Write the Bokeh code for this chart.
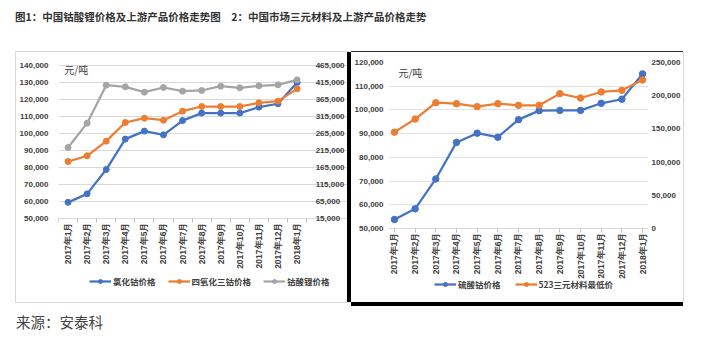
import math
from bokeh.plotting import figure
from bokeh.models import (Range1d, LinearAxis, FixedTicker, NumeralTickFormatter,
                          Legend, LegendItem, Label, Div, Spacer)
from bokeh.layouts import column, row
from bokeh.embed import file_html
from bokeh.resources import INLINE

# ---------------- data ----------------
months = ["2017年1月", "2017年2月", "2017年3月", "2017年4月", "2017年5月", "2017年6月",
          "2017年7月", "2017年8月", "2017年9月", "2017年10月", "2017年11月", "2017年12月",
          "2018年1月"]

# chart 1
cocl2 = [59500, 64500, 78800, 96700, 101400, 99200, 107600, 112000, 112000, 112000, 115500, 117500, 130000]
co3o4 = [182600, 199300, 242500, 297400, 310100, 304200, 330700, 344400, 344400, 344400, 355200, 360100, 396400]
licoo2 = [223800, 295400, 407200, 402300, 386600, 400300, 389500, 391500, 404200, 399300, 405200, 408100, 422800]
c1_left_ticks = [50000, 60000, 70000, 80000, 90000, 100000, 110000, 120000, 130000, 140000]
c1_right_ticks = [15000, 65000, 115000, 165000, 215000, 265000, 315000, 365000, 415000, 465000]

# chart 2
coso4 = [53800, 58300, 70900, 86300, 90200, 88500, 95900, 99700, 99800, 99800, 102800, 104500, 115200]
ncm523 = [145100, 164800, 189500, 188000, 183500, 188000, 185500, 185500, 203100, 196500, 205600, 208100, 223700]
c2_left_ticks = [50000, 60000, 70000, 80000, 90000, 100000, 110000, 120000]
c2_right_ticks = [0, 50000, 100000, 150000, 200000, 250000]

title_text = "图1：中国钴酸锂价格及上游产品价格走势图\u30002：中国市场三元材料及上游产品价格走势"
source_text = "来源：安泰科"
unit_text = "元/吨"
legend1 = ["氯化钴价格", "四氧化三钴价格", "钴酸锂价格"]
legend2 = ["硫酸钴价格", "523三元材料最低价"]

BLUE = "#4472C4"
ORANGE = "#ED7D31"
GRAY = "#A5A5A5"
GRID = "#D9D9D9"
TXT = "#404040"
NUMFONT = "Liberation Sans"
CJK = "Noto Sans CJK SC"

idx = list(range(len(months)))
overrides = {i: m for i, m in enumerate(months)}


def style_num_axis(ax, ticks, standoff):
    ax.ticker = FixedTicker(ticks=ticks)
    ax.formatter = NumeralTickFormatter(format="0,0")
    ax.axis_line_color = None
    ax.major_tick_line_color = None
    ax.minor_tick_line_color = None
    ax.major_tick_out = 0
    ax.major_tick_in = 0
    ax.minor_tick_out = 0
    ax.minor_tick_in = 0
    ax.major_label_text_font = NUMFONT
    ax.major_label_text_font_size = "8px"
    ax.major_label_text_font_style = "bold"
    ax.major_label_text_color = TXT
    ax.major_label_standoff = standoff


def style_x_axis(ax, ticks, minor, tick_out, standoff, at):
    ax.fixed_location = at
    ax.ticker = FixedTicker(ticks=ticks, minor_ticks=minor)
    ax.major_label_overrides = overrides
    ax.major_label_orientation = math.pi / 2
    ax.axis_line_color = GRID
    ax.major_tick_line_color = "#BFBFBF" if tick_out else None
    ax.major_tick_out = tick_out
    ax.major_tick_in = 0
    ax.minor_tick_line_color = "#BFBFBF" if minor else None
    ax.minor_tick_out = 4
    ax.minor_tick_in = 0
    ax.major_label_text_font = NUMFONT
    ax.major_label_text_font_size = "8.5px"
    ax.major_label_text_font_style = "bold"
    ax.major_label_text_color = TXT
    ax.major_label_standoff = standoff


def make_legend(items, loc, spacing):
    return Legend(items=items, orientation="horizontal", location=loc,
                  glyph_width=22, glyph_height=10, label_standoff=2, spacing=spacing,
                  padding=0, margin=0, border_line_color=None, background_fill_alpha=0,
                  label_text_font=CJK, label_text_font_size="8.5px",
                  label_text_font_style="bold", label_text_color=TXT,
                  label_height=10)


# ---------------- chart 1 ----------------
# the frame covers the whole box (so legend and labels are not clipped);
# range ends are chosen so the value area keeps its place
p1 = figure(width=332, height=250, x_range=Range1d(-0.5, 14.693), y_range=Range1d(1765, 141765),
            output_backend="svg", toolbar_location=None,
            min_border_left=41, min_border_right=0, min_border_top=10, min_border_bottom=2,
            styles={"box-shadow": "0 0 0 1px #D9D9D9"})
p1.outline_line_color = None
p1.extra_y_ranges = {"r": Range1d(-226176, 473824)}
r_axis1 = LinearAxis(y_range_name="r", fixed_location=12.5)
p1.add_layout(r_axis1, "right")
style_num_axis(p1.yaxis[0], c1_left_ticks, 10)
style_num_axis(r_axis1, c1_right_ticks, 9)
style_x_axis(p1.xaxis[0], idx, [i - 0.5 for i in idx] + [12.5], 0, 0, c1_left_ticks[0])
p1.xgrid.grid_line_color = None
p1.ygrid.grid_line_color = GRID
p1.ygrid.bounds = (-0.5, 12.5)

a1 = p1.line(idx, cocl2, color=BLUE, line_width=2.25)
b1 = p1.scatter(idx, cocl2, size=6, color=BLUE)
a2 = p1.line(idx, co3o4, color=ORANGE, line_width=2.25, y_range_name="r")
b2 = p1.scatter(idx, co3o4, size=6, color=ORANGE, y_range_name="r")
a3 = p1.line(idx, licoo2, color=GRAY, line_width=2.25, y_range_name="r")
b3 = p1.scatter(idx, licoo2, size=6, color=GRAY, y_range_name="r")

p1.add_layout(Label(x=-0.2, y=137650, text=unit_text, text_font=CJK, text_font_size="10px",
                    text_color=TXT, text_baseline="middle"))
p1.add_layout(make_legend([LegendItem(label=legend1[0], renderers=[a1, b1]),
                           LegendItem(label=legend1[1], renderers=[a2, b2]),
                           LegendItem(label=legend1[2], renderers=[a3, b3])], (31, 13), 12))

# ---------------- chart 2 ----------------
p2 = figure(width=332, height=250, x_range=Range1d(-0.288, 12.288), y_range=Range1d(19639, 120000),
            output_backend="svg", toolbar_location=None,
            min_border_left=36, min_border_right=34, min_border_top=10, min_border_bottom=2,
            styles={"box-shadow": "-4px 0 0 0 #000, 0 4px 0 0 #000, 0 -1px 0 0 #333, 1px 0 0 0 #D9D9D9"})
p2.outline_line_color = None
p2.extra_y_ranges = {"r": Range1d(-108434, 250000)}
p2.add_layout(LinearAxis(y_range_name="r"), "right")
style_num_axis(p2.yaxis[0], c2_left_ticks, 5)
style_num_axis(p2.yaxis[1], c2_right_ticks, 3)
style_x_axis(p2.xaxis[0], idx, [], 4, 0, c2_left_ticks[0])
p2.xgrid.grid_line_color = None
p2.ygrid.grid_line_color = "#E3E3E3"
p2.ygrid.bounds = (0, 12)

c1 = p2.line(idx, coso4, color=BLUE, line_width=2.25)
d1 = p2.scatter(idx, coso4, size=6.5, color=BLUE)
c2 = p2.line(idx, ncm523, color=ORANGE, line_width=2.25, y_range_name="r")
d2 = p2.scatter(idx, ncm523, size=6.5, color=ORANGE, y_range_name="r")

p2.add_layout(Label(x=0.19, y=115600, text=unit_text, text_font=CJK, text_font_size="10px",
                    text_color=TXT, text_baseline="middle"))
p2.add_layout(make_legend([LegendItem(label=legend2[0], renderers=[c1, d1]),
                           LegendItem(label=legend2[1], renderers=[c2, d2])], (46, 10), 14))

# ---------------- page ----------------
title = Div(text=f'<div style="position:absolute;left:15px;top:10px;font-family:\'{CJK}\';'
                 f'font-weight:bold;font-size:10.5px;line-height:14px;color:#333;white-space:nowrap;">'
                 f'{title_text}</div>',
            width=711, height=52, margin=0)
source = Div(text=f'<div style="position:absolute;left:16px;top:10px;font-family:\'{CJK}\';'
                  f'font-size:14.5px;line-height:20px;color:#444;white-space:nowrap;">'
                  f'{source_text}</div>',
             width=711, height=35, margin=0)

charts = row(Spacer(width=16, height=250, margin=0), p1, Spacer(width=3, height=250, margin=0), p2,
             spacing=0, margin=0)
layout = column(title, charts, source, spacing=0, margin=0)

open("out.html", "w").write(file_html(layout, INLINE))
